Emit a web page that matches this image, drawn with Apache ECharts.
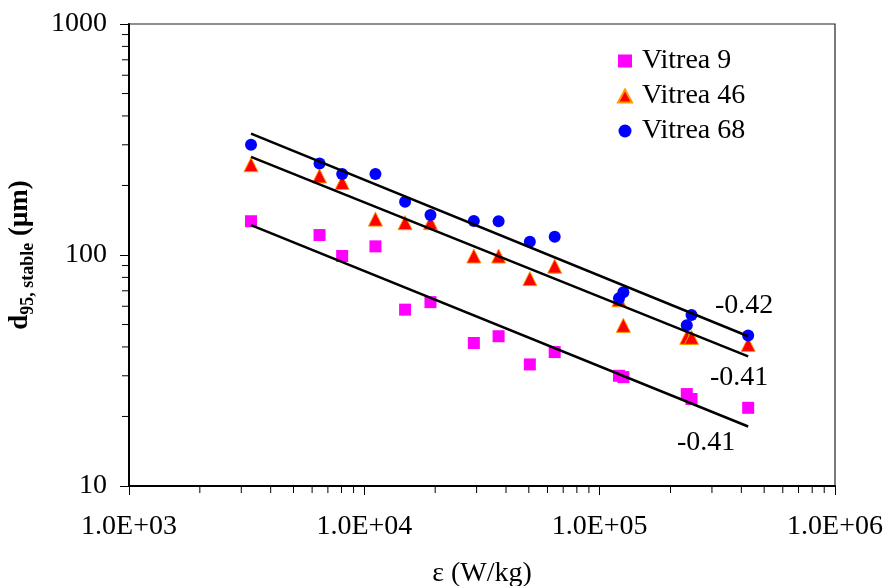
<!DOCTYPE html>
<html>
<head>
<meta charset="utf-8">
<script src="https://cdn.jsdelivr.net/npm/echarts@6/dist/echarts.min.js"></script>
<style>
  html, body { margin: 0; padding: 0; background: #fff; }
  #chart { width: 885px; height: 586px; }
</style>
</head>
<body>
<div id="chart"></div>
<script>
// Power input per unit mass (W/kg), shared by the three oils
const epsilon = [3300, 6450, 8050, 11150, 14900, 19100, 29200, 37200, 50500, 64400, 120800, 126100, 234500, 245600, 427600];

// Stable d95 drop size (µm)
const vitrea9  = [140, 122, 99, 109, 58, 62.5, 41.6, 44.5, 33.6, 38, 30, 29.6, 25, 23.8, 21.8];
const vitrea46 = [246, 220, 206, 143, 138, 138, 99, 99, 79, 89.5, 64, 49.6, 44, 44, 41];
const vitrea68 = [300, 249, 224, 224, 170, 149, 140.5, 140, 114, 120, 65, 69, 49.6, 55, 44.8];

// Power-law trend lines: [start, end] points in (epsilon, d95)
const trend68 = [[3300, 335], [427600, 44.5]];
const trend46 = [[3300, 266], [427600, 36.4]];
const trend9  = [[3300, 134.6], [427600, 18.1]];
const slopeLabels = ['-0.42', '-0.41', '-0.41'];

const seriesNames = ['Vitrea 9', 'Vitrea 46', 'Vitrea 68'];

// Axis ranges
const xMin = 1e3, xMax = 1e6;
const yMin = 10, yMax = 1000;

const FONT = '"Liberation Serif", "Times New Roman", serif';
const FS = 28;

// Logarithmic minor tick values (2..9 within every decade)
function minorTicks(lo, hi) {
  const out = [];
  for (let d = lo; d < hi; d *= 10) {
    for (let k = 2; k <= 9; k++) out.push(d * k);
  }
  return out;
}
const xMinor = minorTicks(xMin, xMax);
const yMinor = minorTicks(yMin, yMax);

function sciLabel(v) {
  const parts = Number(v).toExponential(1).split('e');
  const exp = parseInt(parts[1], 10);
  const sign = exp < 0 ? '-' : '+';
  return parts[0] + 'E' + sign + String(Math.abs(exp)).padStart(2, '0');
}

function pairs(xs, ys) {
  return xs.map((x, i) => [x, ys[i]]);
}

function trendSeries(points, label, offset) {
  return {
    type: 'line',
    data: points.map((p, i) => i === points.length - 1 ? {
      value: p,
      label: {
        show: true,
        formatter: label,
        position: 'inside',
        offset: offset,
        align: 'center',
        verticalAlign: 'middle',
        color: '#000',
        fontFamily: FONT,
        fontSize: FS
      }
    } : { value: p }),
    symbol: 'circle',
    symbolSize: 0,
    showSymbol: true,
    lineStyle: { color: '#000', width: 2.5 },
    itemStyle: { color: '#000' },
    silent: true,
    z: 5,
    animation: false
  };
}

const chart = echarts.init(document.getElementById('chart'), null, { renderer: 'canvas' });

chart.setOption({
  animation: false,
  backgroundColor: '#fff',
  grid: {
    left: 129, right: 50, top: 24, bottom: 100,
    outerBoundsMode: 'none',
    containLabel: false,
    show: true, borderColor: '#222', borderWidth: 1.2
  },
  legend: {
    orient: 'vertical',
    left: 612,
    top: 42,
    itemWidth: 14,
    itemHeight: 13,
    itemGap: 7,
    symbolKeepAspect: true,
    data: seriesNames,
    textStyle: { fontFamily: FONT, fontSize: FS, color: '#000', lineHeight: 28, padding: [0, 0, 0, 5] }
  },
  xAxis: {
    type: 'log',
    logBase: 10,
    min: xMin,
    max: xMax,
    name: 'ε (W/kg)',
    nameLocation: 'middle',
    nameGap: 74,
    nameTextStyle: { fontFamily: FONT, fontSize: FS, color: '#000' },
    axisLine: { lineStyle: { color: '#000', width: 2 } },
    axisTick: { show: true, length: 9, lineStyle: { color: '#000', width: 1 } },
    minorTick: { show: false },
    splitLine: { show: false },
    axisLabel: {
      formatter: sciLabel,
      margin: 27,
      fontFamily: FONT,
      fontSize: FS,
      color: '#000'
    }
  },
  yAxis: {
    type: 'log',
    logBase: 10,
    min: yMin,
    max: yMax,
    name: '{b|d}{s|95, stable}{b| (μm)}',
    nameLocation: 'middle',
    nameRotate: 90,
    nameGap: 92,
    nameTextStyle: {
      rich: {
        b: { fontFamily: FONT, fontSize: 27, fontWeight: 'bold', color: '#000', lineHeight: 30, verticalAlign: 'top' },
        s: { fontFamily: FONT, fontSize: 18, fontWeight: 'bold', color: '#000', lineHeight: 20, verticalAlign: 'bottom', padding: [14, 0, 0, 0] }
      }
    },
    axisLine: { lineStyle: { color: '#000', width: 2 } },
    axisTick: { show: true, length: 9, lineStyle: { color: '#000', width: 1 } },
    minorTick: { show: false },
    splitLine: { show: false },
    axisLabel: {
      formatter: v => String(Math.round(v)),
      margin: 22,
      fontFamily: FONT,
      fontSize: FS,
      color: '#000'
    }
  },
  series: [
    {
      name: 'Vitrea 9',
      type: 'scatter',
      data: pairs(epsilon, vitrea9),
      symbol: 'rect',
      symbolSize: 12,
      itemStyle: { color: '#FF00FF', opacity: 1 },
      z: 2
    },
    {
      name: 'Vitrea 46',
      type: 'scatter',
      data: pairs(epsilon, vitrea46),
      symbol: 'triangle',
      symbolSize: 14,
      itemStyle: { color: '#FF0000', borderColor: '#FF9900', borderWidth: 1, opacity: 1 },
      z: 3
    },
    {
      name: 'Vitrea 68',
      type: 'scatter',
      data: pairs(epsilon, vitrea68),
      symbol: 'circle',
      symbolSize: 12,
      itemStyle: { color: '#0000FF', opacity: 1 },
      z: 4
    },
    trendSeries(trend68, slopeLabels[0], [-4, -31]),
    trendSeries(trend46, slopeLabels[1], [-9, 21]),
    trendSeries(trend9, slopeLabels[2], [-42, 16]),
    // minor ticks below the x axis
    {
      type: 'custom',
      silent: true,
      clip: false,
      z: 6,
      data: xMinor.map(v => [v, yMin]),
      renderItem: function (params, api) {
        const p = api.coord([api.value(0), yMin]);
        return {
          type: 'line',
          shape: { x1: p[0], y1: p[1], x2: p[0], y2: p[1] + 7 },
          style: { stroke: '#000', lineWidth: 1 }
        };
      }
    },
    // minor ticks left of the y axis
    {
      type: 'custom',
      silent: true,
      clip: false,
      z: 6,
      data: yMinor.map(v => [xMin, v]),
      renderItem: function (params, api) {
        const p = api.coord([xMin, api.value(1)]);
        return {
          type: 'line',
          shape: { x1: p[0] - 7, y1: p[1], x2: p[0], y2: p[1] },
          style: { stroke: '#000', lineWidth: 1 }
        };
      }
    }
  ]
});
</script>
</body>
</html>
